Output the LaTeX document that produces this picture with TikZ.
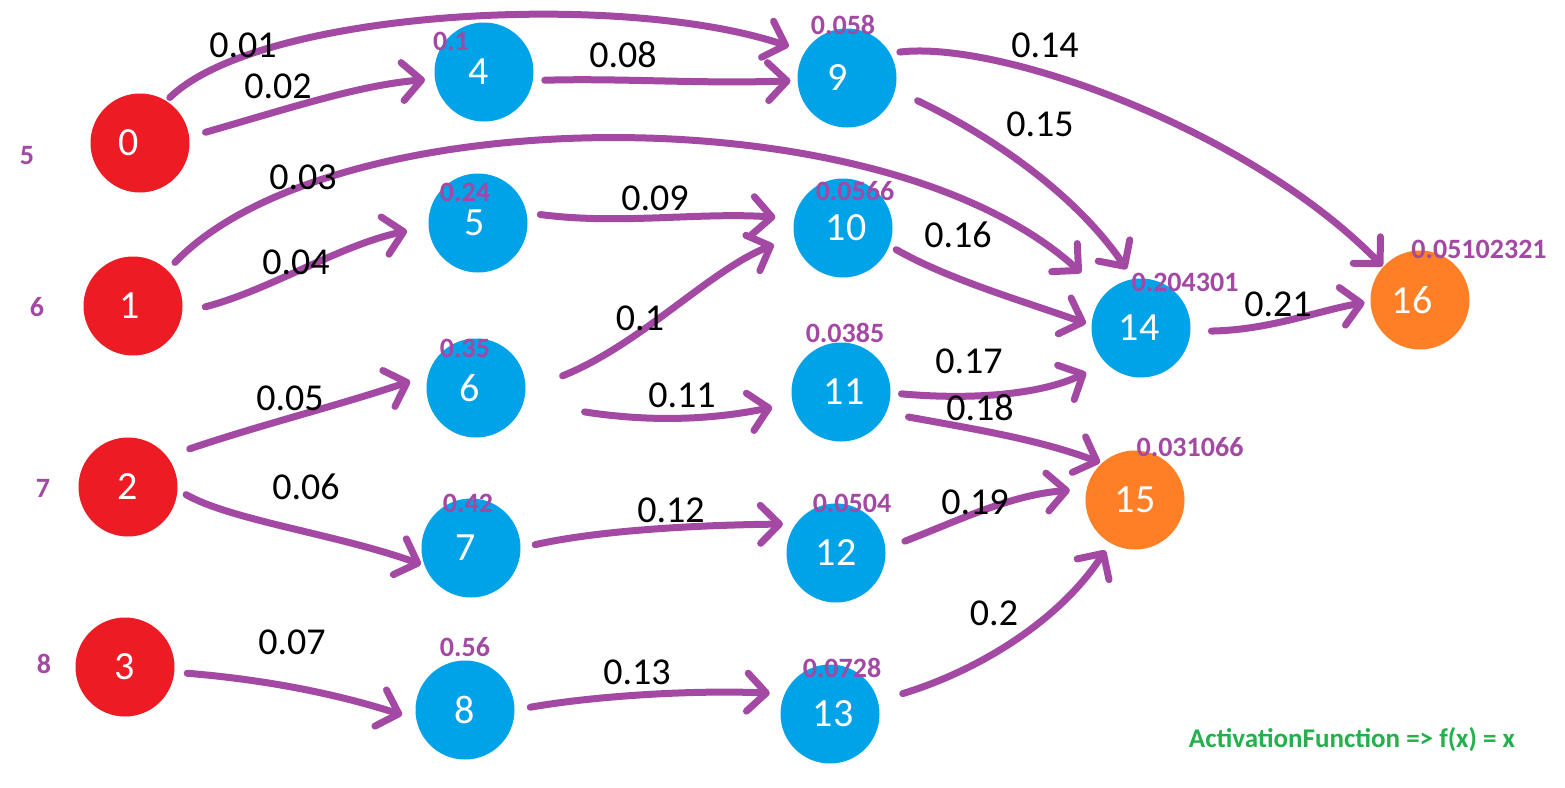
\documentclass[tikz,border=0pt]{standalone}
\usepackage{fontspec}
\setmainfont{Carlito}
\usetikzlibrary{arrows.meta}
\definecolor{inred}{HTML}{ED1C24}
\definecolor{hidblue}{HTML}{00A2E8}
\definecolor{outorange}{HTML}{FF7F27}
\definecolor{wirepurple}{HTML}{A349A4}
\definecolor{notegreen}{HTML}{22B14C}
\newcommand\neuronfont{\fontsize{40}{42}\selectfont}
\newcommand\weightfont{\fontsize{38}{40}\selectfont}
\newcommand\valfont{\bfseries\fontsize{28}{30}\selectfont}
\newcommand\notefont{\bfseries\fontsize{27}{29}\selectfont}
\begin{document}
\begin{tikzpicture}[x=1pt,y=-1pt,
  neuron/.style={circle, minimum size=99pt, inner sep=0pt, outer sep=0pt, text=white, font=\neuronfont},
  % horizontal offset of the number inside a neuron
  dx/.style={execute at begin node=\kern#1pt, execute at end node=\kern-#1pt},
  inputn/.style={neuron, fill=inred},
  hiddenn/.style={neuron, fill=hidblue},
  outputn/.style={neuron, fill=outorange},
  wire/.style={draw=wirepurple, line width=7pt, line cap=round, line join=round,
    -{Straight Barb[length=19pt,width=38pt,round]}},
  wlabel/.style={font=\weightfont, inner sep=0pt},
  vlabel/.style={text=wirepurple, font=\valfont, inner sep=0pt},
  note/.style={text=notegreen, font=\notefont, inner sep=0pt}]
\fill[white] (0,0) rectangle (1565,787);
\useasboundingbox (0,0) rectangle (1565,787);

% input layer
\node[inputn, dx=-11] (n0) at (140,143) {0};
\node[inputn, dx=-3] (n1) at (133,306) {1};
\node[inputn] (n2) at (128,487) {2};
\node[inputn] (n3) at (125,667) {3};
% first hidden layer
\node[hiddenn, dx=-5] (n4) at (484,72) {4};
\node[hiddenn, dx=-3] (n5) at (478,223) {5};
\node[hiddenn, dx=-6] (n6) at (476,388) {6};
\node[hiddenn, dx=-5] (n7) at (471,548) {7};
\node[hiddenn] (n8) at (465,710) {8};
% second hidden layer
\node[hiddenn, dx=-9] (n9) at (847,78) {9};
\node[hiddenn, dx=3] (n10) at (843,228) {10};
\node[hiddenn, dx=3] (n11) at (841,392) {11};
\node[hiddenn] (n12) at (836,553) {12};
\node[hiddenn, dx=3] (n13) at (830,714) {13};
% third layer and outputs
\node[hiddenn, dx=-2] (n14) at (1141,328) {14};
\node[outputn] (n15) at (1135,500) {15};
\node[outputn, dx=-8] (n16) at (1420,300) {16};

% weighted connections
\draw[wire, shorten <=5pt, shorten >=17pt] (n0.58) .. controls (260,10) and (620,-10) .. (n9.148);
\draw[wire, shorten <=17pt, shorten >=10pt] (n0.7) .. controls (290,108) and (360,85) .. (n4.188);
\draw[wire, shorten <=12pt, shorten >=7pt] (n4.-10) .. controls (620,78) and (700,84) .. (n9.183);
\draw[wire, shorten <=11pt, shorten >=32pt] (n1.46) .. controls (330,100) and (880,90) .. (n14.137);
\draw[wire, shorten <=24pt, shorten >=22pt] (n1.-8) .. controls (270,290) and (340,245) .. (n5.184);
\draw[wire, shorten <=14pt, shorten >=19pt] (n5.12) .. controls (620,225) and (700,212) .. (n10.169);
\draw[wire, shorten <=40pt, shorten >=22pt] (n6.-3) .. controls (640,345) and (710,270) .. (n10.190);
\draw[wire, shorten <=62pt, shorten >=21pt] (n6.-17) .. controls (650,422) and (710,420) .. (n11.193);
\draw[wire, shorten <=24pt, shorten >=19pt] (n2.38) .. controls (260,425) and (340,405) .. (n6.165);
\draw[wire, shorten <=10pt, shorten >=4pt] (n2.-3) .. controls (230,520) and (340,535) .. (n7.201);
\draw[wire, shorten <=15pt, shorten >=13pt] (n7.0) .. controls (600,530) and (700,525) .. (n12.144);
\draw[wire, shorten <=13pt, shorten >=15pt] (n3.-6) .. controls (270,680) and (340,695) .. (n8.191);
\draw[wire, shorten <=16pt, shorten >=15pt] (n8.0) .. controls (600,695) and (700,690) .. (n13.156);
\draw[wire, shorten <=10pt, shorten >=1pt] (n9.30) .. controls (1000,40) and (1250,130) .. (n16.138);
\draw[wire, shorten <=25pt, shorten >=12pt] (n9.-14) .. controls (1000,140) and (1080,200) .. (n14.99);
\draw[wire, shorten <=8pt, shorten >=6pt] (n10.-21) .. controls (950,280) and (1020,300) .. (n14.177);
\draw[wire, shorten <=11pt, shorten >=22pt] (n11.-1) .. controls (970,400) and (1040,395) .. (n14.225);
\draw[wire, shorten <=23pt, shorten >=2pt] (n11.-25) .. controls (980,430) and (1040,440) .. (n15.132);
\draw[wire, shorten <=21pt, shorten >=17pt] (n12.5) .. controls (960,520) and (1010,495) .. (n15.167);
\draw[wire, shorten <=26pt, shorten >=9pt] (n13.15) .. controls (980,670) and (1060,620) .. (n15.240);
\draw[wire, shorten <=21pt, shorten >=6pt] (n14.-4) .. controls (1270,330) and (1320,310) .. (n16.182);

% weights
\node[wlabel] (w1) at (243,45) {0.01};
\node[wlabel] (w2) at (278,86) {0.02};
\node[wlabel] (w3) at (303,177) {0.03};
\node[wlabel] (w4) at (296,262) {0.04};
\node[wlabel] (w5) at (290,398) {0.05};
\node[wlabel] (w6) at (306,487) {0.06};
\node[wlabel] (w7) at (292,642) {0.07};
\node[wlabel] (w8) at (623,55) {0.08};
\node[wlabel] (w9) at (655,198) {0.09};
\node[wlabel] (w10) at (640,318) {0.1};
\node[wlabel] (w11) at (682,395) {0.11};
\node[wlabel] (w12) at (671,510) {0.12};
\node[wlabel] (w13) at (637,672) {0.13};
\node[wlabel] (w14) at (1045,45) {0.14};
\node[wlabel] (w15) at (1040,124) {0.15};
\node[wlabel] (w16) at (958,235) {0.16};
\node[wlabel] (w17) at (969,361) {0.17};
\node[wlabel] (w18) at (980,408) {0.18};
\node[wlabel] (w19) at (975,502) {0.19};
\node[wlabel] (w20) at (994,613) {0.2};
\node[wlabel] (w21) at (1278,304) {0.21};

% neuron values
\node[vlabel] (v4) at (451,41) {0.1};
\node[vlabel] (v5) at (465,192) {0.24};
\node[vlabel] (v6) at (465,348) {0.35};
\node[vlabel] (v7) at (468,503) {0.42};
\node[vlabel] (v8) at (465,647) {0.56};
\node[vlabel] (v9) at (843,25) {0.058};
\node[vlabel] (v10) at (855,191) {0.0566};
\node[vlabel] (v11) at (845,333) {0.0385};
\node[vlabel] (v12) at (852,503) {0.0504};
\node[vlabel] (v13) at (842,668) {0.0728};
\node[vlabel] (v14) at (1185,282) {0.204301};
\node[vlabel] (v15) at (1190,447) {0.031066};
\node[vlabel] (v16) at (1479,249) {0.05102321};
% input values
\node[vlabel] (i0) at (27,156) {5};
\node[vlabel] (i1) at (37,307) {6};
\node[vlabel] (i2) at (43,488) {7};
\node[vlabel] (i3) at (44,664) {8};

\node[note] (act) at (1352,740) {ActivationFunction => f(x) = x};
\end{tikzpicture}
\end{document}
